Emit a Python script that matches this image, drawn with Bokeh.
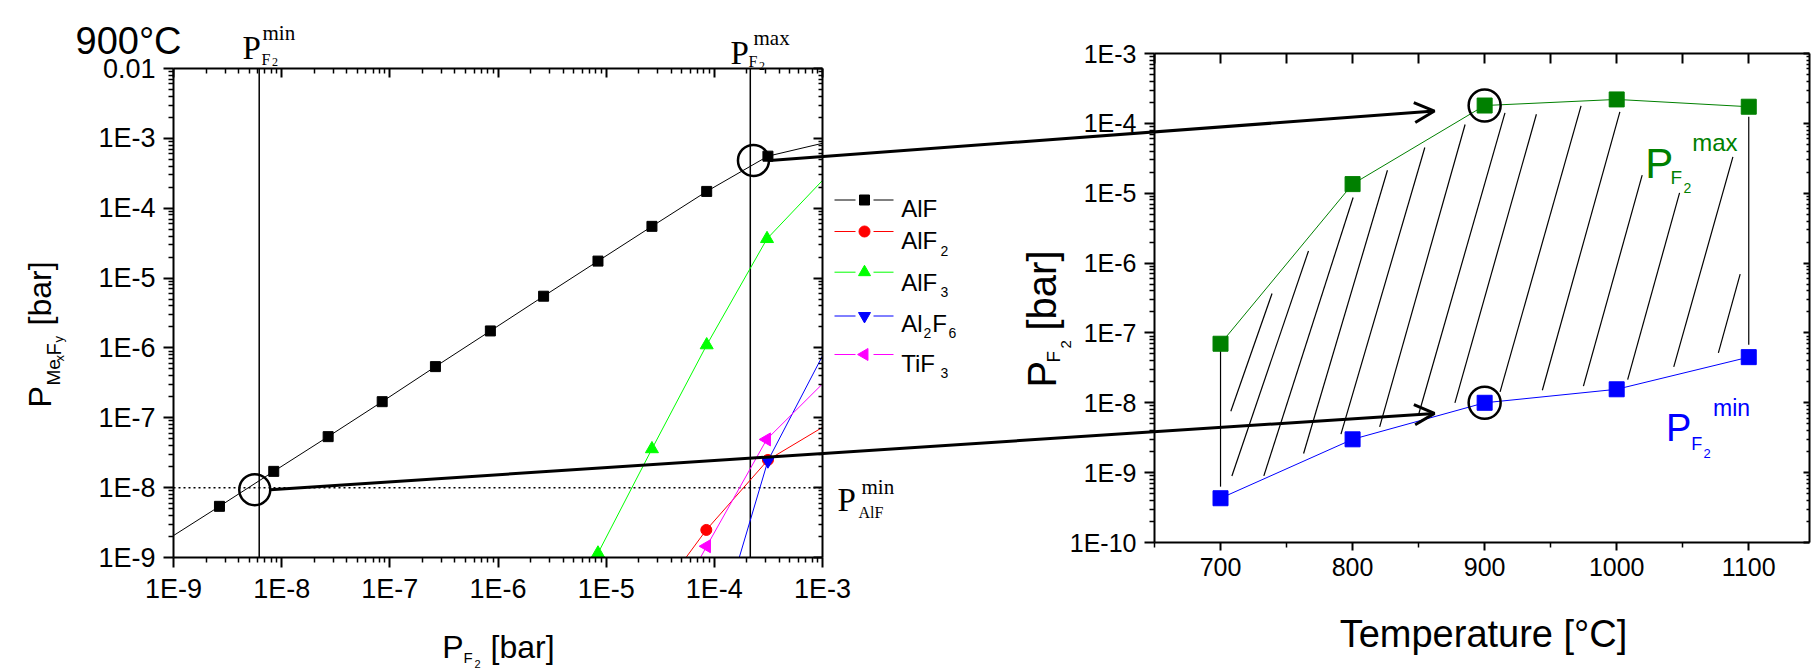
import numpy as np
from bokeh.plotting import figure
from bokeh.models import (LogAxis, LinearAxis, FixedTicker, CustomJSTickFormatter,
                          Label, Arrow, OpenHead, Range1d, LinearScale, LogScale)
from bokeh.embed import file_html
from bokeh.resources import INLINE

# ---------------- data: left panel (900 °C) ----------------
# marker positions
alf_x = [2.66e-9, 8.45e-9, 2.69e-8, 8.5e-8, 2.64e-7, 8.5e-7, 2.64e-6, 8.4e-6, 2.65e-5, 8.5e-5, 3.13e-4]
alf_y = [5.4e-9, 1.71e-8, 5.37e-8, 1.7e-7, 5.4e-7, 1.75e-6, 5.5e-6, 1.75e-5, 5.5e-5, 1.74e-4, 5.56e-4]
alf2_x = [8.43e-5, 3.13e-4]
alf2_y = [2.48e-9, 2.49e-8]
alf3_x = [8.4e-6, 2.65e-5, 8.5e-5, 3.07e-4]
alf3_y = [1.15e-9, 3.58e-8, 1.1e-6, 3.65e-5]
al2f6_x = [3.13e-4]
al2f6_y = [2.43e-8]
tif3_x = [8.5e-5, 3.05e-4]
tif3_y = [1.45e-9, 4.9e-8]
# where each curve enters / leaves the plot box
alf_ends = [(1e-9, 2.06e-9), (1e-3, 8.5e-4)]
alf2_ends = [(5.47e-5, 1e-9), (1e-3, 7.3e-8)]
alf3_ends = [(8.0e-6, 1e-9), (1e-3, 2.5e-4)]
al2f6_ends = [(1.7e-4, 1e-9), (1e-3, 7.7e-7)]
tif3_ends = [(7.45e-5, 1e-9), (1e-3, 3.06e-7)]
species = ["AlF", "AlF2", "AlF3", "Al2F6", "TiF3"]

pf2_min_900 = 6.2e-9
pf2_max_900 = 2.15e-4
p_alf_min = 1e-8
mark_circle_x = [5.64e-9, 2.3e-4]
mark_circle_y = [9.36e-9, 4.83e-4]

# ---------------- data: right panel ----------------
temps = [700, 800, 900, 1000, 1100]
pf2_max = [7.0e-8, 1.35e-5, 1.8e-4, 2.2e-4, 1.73e-4]
pf2_min = [4.3e-10, 3.0e-9, 1.0e-8, 1.56e-8, 4.5e-8]
circle_t = [900, 900]
circle_p = [1.8e-4, 1.0e-8]

# hatch strokes of the window (T, P) start -> end
hatch_t0 = [700, 707.8, 708.6, 732.8, 762.9, 791.2, 820.5, 850.0, 877.5, 911.7, 943.7, 974.8, 1008.3, 1043.2, 1077.0, 1100]
hatch_p0 = [6.3e-10, 7.57e-9, 8.97e-10, 8.97e-10, 1.88e-9, 3.55e-9, 4.52e-9, 6.79e-9, 9.95e-9, 1.43e-8, 1.51e-8, 1.73e-8, 2.15e-8, 3.27e-8, 5.18e-8, 6.8e-8]
hatch_t1 = [700, 739.0, 766.6, 800.4, 826.4, 854.7, 885.2, 915.4, 939.2, 973.0, 1002.4, 1019.3, 1047.6, 1088.0, 1093.5, 1100]
hatch_p1 = [5.8e-8, 3.66e-7, 1.49e-6, 8.69e-6, 2.13e-5, 4.51e-5, 9.64e-5, 1.41e-4, 1.35e-4, 1.78e-4, 1.46e-4, 1.81e-5, 1.01e-5, 3.31e-5, 6.93e-7, 1.24e-4]

# arrows: from the 900 °C plot (left data) to the temperature plot (right data)
arrow_lo_start = (7.87e-9, 9.36e-9)
arrow_lo_end = (862, 7.05e-9)
arrow_hi_start = (3.24e-4, 4.83e-4)
arrow_hi_end = (862, 1.5e-4)

# ticks
left_x_major = [10.0 ** e for e in range(-9, -2)]
left_y_major = [10.0 ** e for e in range(-9, -1)]
right_y_major = [10.0 ** e for e in range(-10, -2)]
t_major = [700, 800, 900, 1000, 1100]
t_minor = [650, 750, 850, 950, 1050]
t_top = [650, 700, 750, 800, 850, 900, 950, 1000, 1050, 1100]
LX_LIM = (1e-9, 1e-3)
LY_LIM = (1e-9, 1e-2)
TX_LIM = (650.0, 1146.0)
RY_LIM = (1e-10, 1e-3)


def log_minor(lo, hi):
    return [k * 10.0 ** e for e in range(lo, hi) for k in range(2, 10)]


# ---------------- page geometry (px) ----------------
W, H = 1811, 669
L_LEFT, L_RIGHT, L_TOP, L_BOTTOM = 173, 822, 68, 557
R_LEFT, R_RIGHT, R_TOP, R_BOTTOM = 1154, 1809, 53, 542

LPX = (L_RIGHT - L_LEFT) / 6.0
LPY = (L_BOTTOM - L_TOP) / 7.0
TPX = (R_RIGHT - R_LEFT) / (TX_LIM[1] - TX_LIM[0])
RPY = (R_BOTTOM - R_TOP) / 7.0

# the frame is the whole canvas; each panel's box sits inside it
lx_range = Range1d(10 ** (-9 - L_LEFT / LPX), 10 ** (-3 + (W - L_RIGHT) / LPX))
ly_range = Range1d(10 ** (-9 - (H - L_BOTTOM) / LPY), 10 ** (-2 + L_TOP / LPY))
tx_range = Range1d(TX_LIM[0] - R_LEFT / TPX, TX_LIM[1] + (W - R_RIGHT) / TPX)
ry_range = Range1d(10 ** (-10 - (H - R_BOTTOM) / RPY), 10 ** (-3 + R_TOP / RPY))

FMT_LOG = CustomJSTickFormatter(code="""
const e = Math.round(Math.log10(tick));
if (e == -2) { return "0.01"; }
return "1E" + e;
""")
FMT_NONE = CustomJSTickFormatter(code="return '';")


def style(ax, out_, in_, mout, min_, fs, standoff):
    ax.axis_line_width = 2
    ax.axis_line_color = "black"
    ax.major_tick_line_width = 2
    ax.minor_tick_line_width = 1.5
    ax.major_tick_line_color = "black"
    ax.minor_tick_line_color = "black"
    ax.major_tick_out = out_
    ax.major_tick_in = in_
    ax.minor_tick_out = mout
    ax.minor_tick_in = min_
    ax.major_label_text_font = "Liberation Sans"
    ax.major_label_text_font_size = fs
    ax.major_label_text_font_style = "normal"
    ax.major_label_text_color = "black"
    ax.major_label_standoff = standoff


p = figure(width=W, height=H, x_axis_type="log", y_axis_type="log",
           x_range=lx_range, y_range=ly_range,
           output_backend="svg", toolbar_location=None, title=None,
           min_border=0, min_border_left=0, min_border_right=0,
           min_border_top=0, min_border_bottom=0)
p.extra_x_ranges = {"T": tx_range}
p.extra_x_scales = {"T": LinearScale()}
p.extra_y_ranges = {"R": ry_range}
p.extra_y_scales = {"R": LogScale()}
p.outline_line_color = None
p.xgrid.visible = False
p.ygrid.visible = False
p.background_fill_color = "white"
p.border_fill_color = "white"


def txt(X, Y, s, size, color="black", font="Liberation Sans", angle=0, align="left"):
    p.add_layout(Label(x=X, y=H - Y, x_units="screen", y_units="screen", text=s,
                       text_font=font, text_font_size=f"{size}px", text_color=color,
                       angle=angle, angle_units="deg", text_align=align,
                       text_baseline="alphabetic"))


# ---- left panel axes ----
lx_ticker = FixedTicker(ticks=left_x_major, minor_ticks=log_minor(-9, -3))
ly_ticker = FixedTicker(ticks=left_y_major, minor_ticks=log_minor(-9, -2))
bx = p.xaxis[0]
bx.ticker = lx_ticker
bx.formatter = FMT_LOG
bx.fixed_location = LY_LIM[0]
bx.bounds = LX_LIM
style(bx, 10, 0, 5, 0, "27px", 6)
ly = p.yaxis[0]
ly.ticker = ly_ticker
ly.formatter = FMT_LOG
ly.fixed_location = LX_LIM[0]
ly.bounds = LY_LIM
style(ly, 10, 0, 5, 0, "27px", 8)
ax = LogAxis(ticker=lx_ticker, formatter=FMT_NONE, fixed_location=LY_LIM[1], bounds=LX_LIM)
style(ax, 0, 9, 0, 5, "10px", 0)
p.add_layout(ax, "above")
ax = LogAxis(ticker=ly_ticker, formatter=FMT_NONE, fixed_location=LX_LIM[1], bounds=LY_LIM)
style(ax, 0, 9, 0, 4, "10px", 0)
p.add_layout(ax, "right")

# ---- right panel axes ----
ry_ticker = FixedTicker(ticks=right_y_major, minor_ticks=log_minor(-10, -3))
ax = LinearAxis(x_range_name="T", y_range_name="R",
                ticker=FixedTicker(ticks=t_major, minor_ticks=t_minor),
                fixed_location=RY_LIM[0], bounds=TX_LIM)
style(ax, 8, 0, 5, 0, "25px", 7)
p.add_layout(ax, "below")
ax = LogAxis(x_range_name="T", y_range_name="R", ticker=ry_ticker, formatter=FMT_LOG,
             fixed_location=TX_LIM[0], bounds=RY_LIM)
style(ax, 10, 0, 5, 0, "25px", 8)
p.add_layout(ax, "left")
ax = LinearAxis(x_range_name="T", y_range_name="R",
                ticker=FixedTicker(ticks=t_top, minor_ticks=[]), formatter=FMT_NONE,
                fixed_location=RY_LIM[1], bounds=TX_LIM)
style(ax, 0, 10, 0, 0, "10px", 0)
p.add_layout(ax, "above")
ax = LogAxis(x_range_name="T", y_range_name="R", ticker=ry_ticker, formatter=FMT_NONE,
             fixed_location=TX_LIM[1], bounds=RY_LIM)
style(ax, 0, 6, 0, 3, "10px", 0)
p.add_layout(ax, "right")

# ---- left panel content ----
p.segment(x0=[pf2_min_900, pf2_max_900], y0=[LY_LIM[0]] * 2, x1=[pf2_min_900, pf2_max_900],
          y1=[LY_LIM[1]] * 2, line_color="black", line_width=1.5)
p.segment(x0=[LX_LIM[0]], y0=[p_alf_min], x1=[LX_LIM[1]], y1=[p_alf_min], line_color="black",
          line_width=1.5, line_dash="2 3")

series = [
    (alf_x, alf_y, alf_ends, "black", "square", 10, 0),
    (alf2_x, alf2_y, alf2_ends, "#ff0000", "circle", 11, 0),
    (alf3_x, alf3_y, alf3_ends, "#00ff00", "triangle", 13, 0),
    (al2f6_x, al2f6_y, al2f6_ends, "#0000ff", "inverted_triangle", 13, 0),
    (tif3_x, tif3_y, tif3_ends, "#ff00ff", "triangle", 13, np.pi / 2),
]
for xs, ys, ends, col, mk, sz, ang in series:
    lx = [ends[0][0]] + list(xs) + [ends[1][0]]
    lyv = [ends[0][1]] + list(ys) + [ends[1][1]]
    p.line(lx, lyv, line_color=col, line_width=1)
    p.scatter(xs, ys, marker=mk, size=sz, fill_color=col, line_color=col, angle=ang)

p.scatter(mark_circle_x, mark_circle_y, marker="circle", size=31, fill_alpha=0,
          line_color="black", line_width=2.5)


# ---- legend (line sample broken around the symbol, as in the original) ----
def l_data(X, Y):
    return 10 ** ((X - L_LEFT) / LPX - 9), 10 ** (-9 + (L_BOTTOM - Y) / LPY)


leg_rows = [199.5, 231, 271.7, 315.5, 354]
for (xs, ys, ends, col, mk, sz, ang), yc in zip(series, leg_rows):
    a0, yy = l_data(834, yc)
    a1, _ = l_data(855, yc)
    b0, _ = l_data(873, yc)
    b1, _ = l_data(893, yc)
    mx, _ = l_data(864, yc)
    p.segment(x0=[a0, b0], y0=[yy, yy], x1=[a1, b1], y1=[yy, yy], line_color=col, line_width=1)
    p.scatter([mx], [yy], marker=mk, size=min(sz, 12), fill_color=col, line_color=col, angle=ang)

LS = 24
txt(900.7, 208.3, "AlF", LS)
txt(900.7, 240, "AlF", LS)
txt(940, 250, "2", 14)
txt(900.7, 281.7, "AlF", LS)
txt(940, 291.7, "3", 14)
txt(900.7, 322.7, "Al", LS)
txt(923, 332.7, "2", 14)
txt(931.7, 322.7, "F", LS)
txt(948, 332.7, "6", 14)
txt(900.7, 362.7, "TiF", LS)
txt(940, 372.7, "3", 14)

txt(75, 40, "900°C", 38)
SER = "Liberation Serif"
txt(242, 47, "P", 33, font=SER)
txt(262, 32, "min", 21, font=SER)
txt(261, 58.5, "F", 16, font=SER)
txt(271.5, 61, "2", 12, font=SER)
txt(730, 52, "P", 33, font=SER)
txt(753, 37, "max", 21, font=SER)
txt(748, 61, "F", 16, font=SER)
txt(758.5, 65, "2", 12, font=SER)
txt(837, 499, "P", 33, font=SER)
txt(861, 486, "min", 21, font=SER)
txt(858, 512, "AlF", 16, font=SER)

txt(441.7, 646, "P", 32)
txt(463, 657, "F", 15)
txt(474, 663, "2", 11)
txt(490, 646, "[bar]", 32)
txt(39, 407, "P", 32, angle=90)
txt(53, 385, "Me", 19, angle=90)
txt(58.5, 361, "x", 13, angle=90)
txt(53, 355, "F", 20, angle=90)
txt(57.5, 342, "y", 13, angle=90)
txt(39, 325, "[bar]", 32, angle=90)

# ---- right panel content ----
RN = dict(x_range_name="T", y_range_name="R")
p.segment(x0=hatch_t0, y0=hatch_p0, x1=hatch_t1, y1=hatch_p1, line_color="black",
          line_width=1.2, **RN)
p.line(temps, pf2_max, line_color="#008000", line_width=1, **RN)
p.scatter(temps, pf2_max, marker="square", size=15, fill_color="#008000", line_color="#008000", **RN)
p.line(temps, pf2_min, line_color="#0000ff", line_width=1, **RN)
p.scatter(temps, pf2_min, marker="square", size=15, fill_color="#0000ff", line_color="#0000ff", **RN)
p.scatter(circle_t, circle_p, marker="circle", size=32, fill_alpha=0, line_color="black",
          line_width=2.5, **RN)

txt(1483, 633, "Temperature [°C]", 38, align="center")
txt(1041, 387, "P", 40, angle=90)
txt(1053, 362, "F", 19, angle=90)
txt(1065, 348, "2", 15, angle=90)
txt(1041, 330, "[bar]", 40, angle=90)
GR, BL = "#008000", "#0000ff"
txt(1644.7, 163, "P", 42, color=GR)
txt(1670, 177, "F", 19, color=GR)
txt(1683, 187, "2", 14, color=GR)
txt(1691.7, 142, "max", 24, color=GR)
txt(1665.5, 427, "P", 38, color=BL)
txt(1690.8, 443, "F", 18, color=BL)
txt(1703, 453, "2", 13, color=BL)
txt(1712.6, 407, "min", 23, color=BL)


# ---- arrows ----
def left_page(x, y):
    px = L_LEFT + (np.log10(x) + 9) * LPX
    py = L_BOTTOM - (np.log10(y) + 9) * LPY
    return px, py


for st, en in [(arrow_lo_start, arrow_lo_end), (arrow_hi_start, arrow_hi_end)]:
    sx, sy = left_page(*st)
    p.add_layout(Arrow(end=OpenHead(size=20, line_width=3, line_color="black"),
                       x_start=sx, y_start=H - sy, start_units="screen",
                       x_end=en[0], y_end=en[1], end_units="data",
                       line_color="black", line_width=3, **RN))

open("out.html", "w").write(file_html(p, INLINE))
